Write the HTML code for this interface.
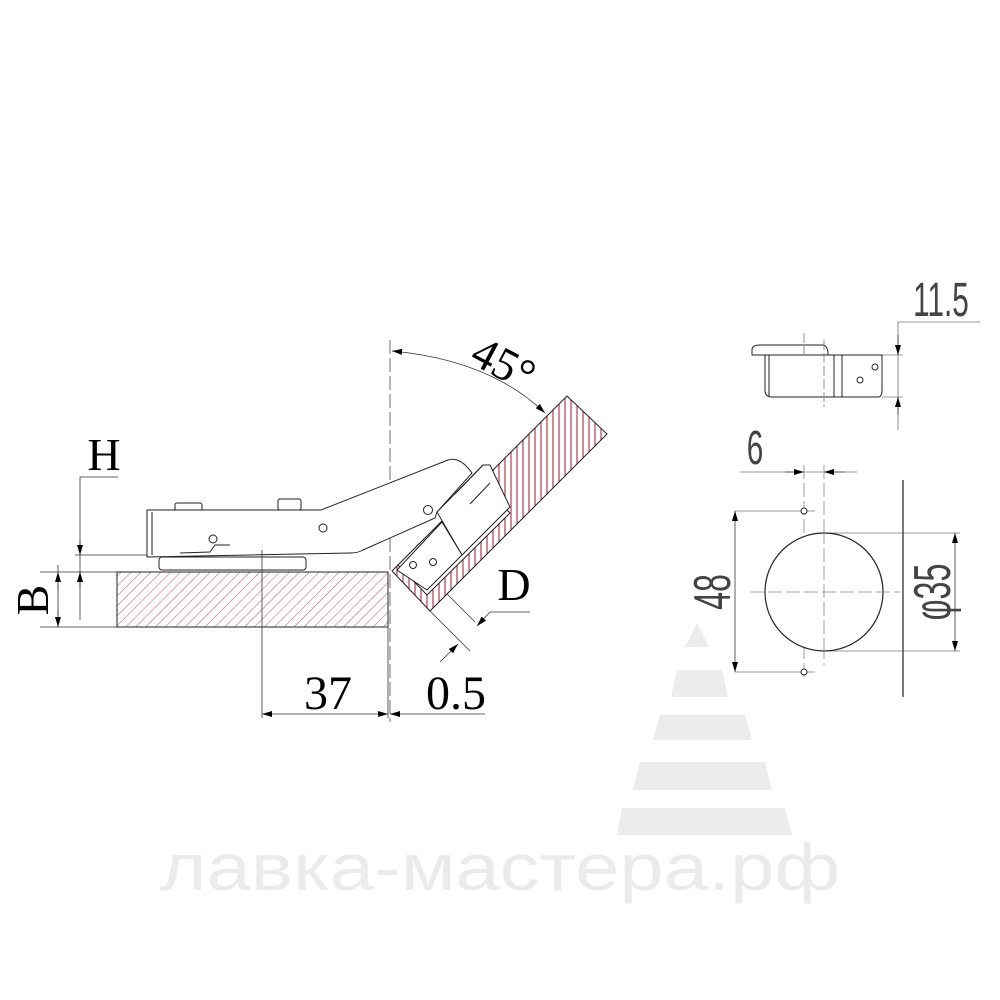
<!DOCTYPE html>
<html><head><meta charset="utf-8"><style>
html,body{margin:0;padding:0;background:#fff;width:1000px;height:1000px;overflow:hidden}
svg{display:block}
.s{font-family:"Liberation Serif",serif}
.t{font-family:"Liberation Sans",sans-serif}
</style></head><body>
<svg width="1000" height="1000" viewBox="0 0 1000 1000" xmlns="http://www.w3.org/2000/svg">
<defs>
<pattern id="hd" patternUnits="userSpaceOnUse" width="7" height="7" patternTransform="rotate(45)">
<line x1="0" y1="0" x2="0" y2="7" stroke="#c0505a" stroke-width="1"/></pattern>
<pattern id="hv" patternUnits="userSpaceOnUse" width="6" height="6">
<line x1="1" y1="0" x2="1" y2="6" stroke="#b04050" stroke-width="1.2"/></pattern>
<marker id="a" viewBox="0 0 10 6" refX="10" refY="3" markerWidth="14" markerHeight="6" markerUnits="userSpaceOnUse" orient="auto-start-reverse"><path d="M0,0L10,3L0,6z" fill="#000"/></marker>
</defs>

<!-- watermark -->
<g fill="#ececec">
<polygon points="697,623 685,647 709,647"/>
<polygon points="677,670 722,670 728,697 671,697"/>
<polygon points="660,715 745,715 752,740 653,740"/>
<polygon points="640,762 765,762 772,790 633,790"/>
<polygon points="622,808 785,808 792,835 617,835"/>
</g>
<text x="500" y="890" text-anchor="middle" class="t" font-size="66" fill="#ebebeb" textLength="680" lengthAdjust="spacingAndGlyphs">лавка-мастера.рф</text>

<!-- base panel -->
<rect x="117" y="572" width="271" height="55" fill="url(#hd)" stroke="#222" stroke-width="1"/>
<!-- door -->
<polygon points="392,571 567,396 607,434 430,611" fill="url(#hv)" stroke="#222" stroke-width="1"/>
<polygon points="398,565 480,483 510,513 427,595" fill="#fff" stroke="#222" stroke-width="1" stroke-linejoin="round"/>

<line x1="390" y1="340" x2="390" y2="722" stroke="#888" stroke-width="1.2" stroke-dasharray="14,4"/>

<!-- hinge arm -->
<g fill="#fff" stroke="#222" stroke-width="1">
<rect x="159" y="557" width="147" height="13" rx="3"/>
<rect x="175" y="503" width="27" height="8" rx="2"/>
<rect x="278" y="499" width="23" height="11" rx="2"/>
<path d="M147,510 L321,510 L448,460 Q460,456 472,473 L437,512 L435,518 L363,550 Q358,553 350,553 L147,557 Z"/>
<line x1="152" y1="512" x2="152" y2="555"/>
<path d="M180,553 L210,552 L215,545 L230,545"/>
<polygon points="437,512 483,465 490,465 510,507 462,555"/>
<line x1="483" y1="465" x2="455" y2="494" />
<line x1="490" y1="483" x2="470" y2="504"/>
<polygon points="442,522 462,555 427,590 397,570"/>
<circle cx="213" cy="539" r="4"/>
<circle cx="323" cy="528" r="4"/>
<circle cx="428" cy="510" r="4.5"/>
<circle cx="413" cy="565" r="3.5"/>
<circle cx="433" cy="562" r="3.5"/>
</g>

<g stroke="#333" stroke-width="0.8" fill="none">
<path d="M392,351 Q490,360 545,413" marker-start="url(#a)" marker-end="url(#a)"/>
<polyline points="118,477 80,477 80,620"/>
<line x1="75" y1="555" x2="147" y2="555"/>
<line x1="40" y1="572" x2="117" y2="572"/>
<line x1="40" y1="627" x2="117" y2="627"/>
<line x1="80" y1="540" x2="80" y2="555" marker-end="url(#a)"/>
<line x1="80" y1="588" x2="80" y2="572" marker-end="url(#a)"/>
<line x1="58" y1="565" x2="58" y2="627"/>
<line x1="58" y1="590" x2="58" y2="572" marker-end="url(#a)"/>
<line x1="58" y1="610" x2="58" y2="627" marker-end="url(#a)"/>
<line x1="262" y1="550" x2="262" y2="718"/>
<line x1="388" y1="627" x2="388" y2="718"/>
<line x1="262" y1="714" x2="388" y2="714" marker-start="url(#a)" marker-end="url(#a)"/>
<line x1="485" y1="714" x2="390" y2="714" marker-end="url(#a)"/>
<line x1="430" y1="611" x2="470" y2="651"/>
<line x1="447" y1="594" x2="475" y2="622"/>
<line x1="440" y1="662" x2="458" y2="644" marker-end="url(#a)"/>
<line x1="490" y1="612" x2="477" y2="626" marker-end="url(#a)"/>
<line x1="490" y1="612" x2="530" y2="612"/>
</g>
<text x="0" y="0" class="s" font-size="46" transform="translate(468,362) rotate(28)">45°</text>
<text x="104" y="470" class="s" font-size="46" text-anchor="middle">H</text>
<text class="s" font-size="46" text-anchor="middle" transform="translate(48,600) rotate(-90)">B</text>
<text x="328" y="709" class="s" font-size="48" text-anchor="middle">37</text>
<text x="456" y="709" class="s" font-size="48" text-anchor="middle">0.5</text>
<text x="514" y="600" class="s" font-size="46" text-anchor="middle">D</text>

<!-- right side view -->
<g fill="#fff" stroke="#222" stroke-width="1">
<path d="M765,355 L765,390 Q765,397 772,397 L878,397 Q882,397 882,390 L882,355 Z"/>
<path d="M752,355 L752,350 Q752,345 760,345 L822,345 Q827,345 828,352 L828,355 Z"/>
<line x1="769" y1="355" x2="769" y2="397"/>
<line x1="834" y1="355" x2="834" y2="397"/>
<line x1="842" y1="355" x2="842" y2="397"/>
<circle cx="875" cy="367" r="3"/>
<circle cx="860" cy="380" r="3"/>
</g>
<g stroke="#777" stroke-width="0.8" fill="none">
<line x1="804" y1="333" x2="804" y2="355" stroke-dasharray="10,3"/>
<line x1="824" y1="340" x2="824" y2="407" stroke-dasharray="10,3"/>
<polyline points="980,322 898,322 898,430"/>
<line x1="882" y1="355" x2="903" y2="355"/>
<line x1="882" y1="397" x2="903" y2="397"/>
</g>
<g stroke="#333" stroke-width="0.8" fill="none">
<line x1="898" y1="335" x2="898" y2="355" marker-end="url(#a)"/>
<line x1="898" y1="415" x2="898" y2="397" marker-end="url(#a)"/>
<line x1="740" y1="472" x2="857" y2="472" stroke="#777"/>
<line x1="785" y1="472" x2="804" y2="472" marker-end="url(#a)"/>
<line x1="845" y1="472" x2="824" y2="472" marker-end="url(#a)"/>
<line x1="804" y1="465" x2="804" y2="680" stroke="#888" stroke-dasharray="14,4"/>
<line x1="824" y1="465" x2="824" y2="665" stroke="#888" stroke-dasharray="14,4"/>
<line x1="735" y1="511" x2="815" y2="511" stroke="#777"/>
<line x1="735" y1="672" x2="815" y2="672" stroke="#777"/>
<line x1="735" y1="511" x2="735" y2="672" marker-start="url(#a)" marker-end="url(#a)"/>
<line x1="824" y1="533" x2="960" y2="533" stroke="#777"/>
<line x1="824" y1="651" x2="960" y2="651" stroke="#777"/>
<line x1="955" y1="533" x2="955" y2="651" marker-start="url(#a)" marker-end="url(#a)"/>
<line x1="903" y1="480" x2="903" y2="697" stroke="#222" stroke-width="1.2"/>
</g>
<circle cx="824" cy="592" r="59" fill="#fff" stroke="#222" stroke-width="1.2"/>
<line x1="750" y1="592" x2="900" y2="592" stroke="#888" stroke-width="0.8" stroke-dasharray="14,4"/>
<line x1="824" y1="530" x2="824" y2="655" stroke="#888" stroke-width="0.8" stroke-dasharray="14,4"/>
<circle cx="804" cy="511" r="3" fill="#fff" stroke="#222"/>
<circle cx="804" cy="672" r="3" fill="#fff" stroke="#222"/>

<g class="t" fill="#444">
<text x="0" y="0" font-size="48" text-anchor="middle" transform="translate(941,316) scale(0.62,1)">11.5</text>
<text x="0" y="0" font-size="48" text-anchor="middle" transform="translate(755,464) scale(0.62,1)">6</text>
<text x="0" y="0" font-size="52" text-anchor="middle" transform="translate(730,592) rotate(-90) scale(0.62,1)">48</text>
<text x="0" y="0" font-size="52" text-anchor="middle" transform="translate(950,592) rotate(-90) scale(0.62,1)">φ35</text>
</g>
</svg>
</body></html>
